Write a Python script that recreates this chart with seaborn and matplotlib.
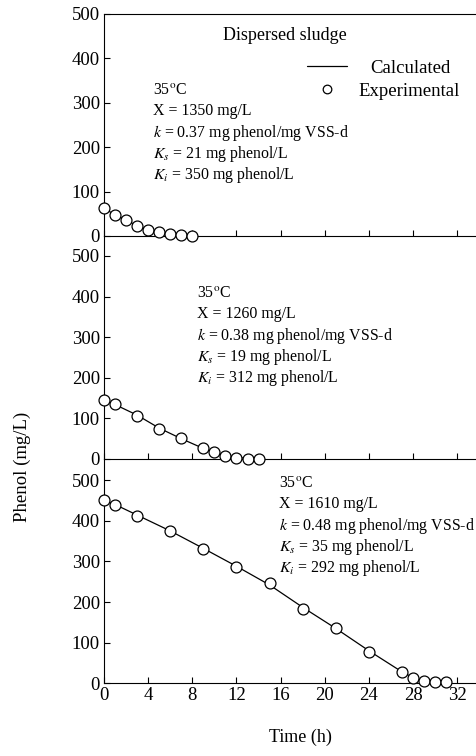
import numpy as np
import pandas as pd
import matplotlib
matplotlib.use("Agg")
import matplotlib.pyplot as plt
from matplotlib.lines import Line2D
import seaborn as sns

# Panel 1: 1350 mg/L
t1 = [0, 1, 2, 3, 4, 5, 6, 7, 8]
exp1 = [62, 48, 36, 23, 14, 8, 4, 2, 1]
calc_t1 = [0, 1, 2, 3, 4, 5, 6, 7, 8]
calc1 = [62, 48, 36, 23, 14, 8, 4, 2, 1]

# Panel 2: 1260 mg/L
t2 = [0, 1, 3, 5, 7, 9, 10, 11, 12, 13, 14]
exp2 = [145, 135, 107, 74, 52, 26, 18, 8, 3, 1, 0.5]
calc_t2 = [0, 1, 3, 5, 7, 9, 10, 11, 12, 13, 14]
calc2 = [145, 134, 108, 76, 50, 26, 17, 9, 4, 1.5, 0.5]

# Panel 3: 1610 mg/L
t3 = [0, 1, 3, 6, 9, 12, 15, 18, 21, 24, 27, 28, 29, 30, 31]
exp3 = [450, 439, 412, 376, 331, 286, 246, 182, 137, 78, 29, 14, 6, 4, 2]
calc_t3 = [0, 1, 3, 6, 9, 12, 15, 18, 21, 24, 27, 28, 29, 30, 31]
calc3 = [450, 440, 414, 375, 332, 288, 242, 187, 135, 80, 28, 14, 6, 3, 1]

notes = [
    ["35$^{\\rm o}$C", "X = 1350 mg/L", "$k$ = 0.37 mg phenol/mg VSS-d",
     "$K_s$ = 21 mg phenol/L", "$K_i$ = 350 mg phenol/L"],
    ["35$^{\\rm o}$C", "X = 1260 mg/L", "$k$ = 0.38 mg phenol/mg VSS-d",
     "$K_s$ = 19 mg phenol/L", "$K_i$ = 312 mg phenol/L"],
    ["35$^{\\rm o}$C", "X = 1610 mg/L", "$k$ = 0.48 mg phenol/mg VSS-d",
     "$K_s$ = 35 mg phenol/L", "$K_i$ = 292 mg phenol/L"],
]
yticks = [0, 100, 200, 300, 400, 500]
xticks = [0, 4, 8, 12, 16, 20, 24, 28, 32]

sns.set_theme(style="ticks")
plt.rcParams["font.family"] = ["Liberation Serif", "DejaVu Serif"]
plt.rcParams["mathtext.fontset"] = "stix"
plt.rcParams["font.size"] = 11
plt.rcParams["axes.linewidth"] = 0.8
plt.rcParams["text.color"] = "black"
plt.rcParams["axes.edgecolor"] = "black"

W, H = 476, 756
fig = plt.figure(figsize=(W / 100, H / 100), dpi=100)

def px(x, y):
    return x / W, 1 - y / H

# (top px, bottom px, ymax, text left px, text top px)
panels = [
    (14, 236, 500, 153, 90),
    (236, 459, 549, 197, 293),
    (459, 683.3, 552, 279, 483),
]
data = [(t1, exp1, calc_t1, calc1), (t2, exp2, calc_t2, calc2), (t3, exp3, calc_t3, calc3)]

left = 104 / W
xmax = 34
width = xmax * 11.04 / W
for i, ((top, bot, ymax, tx, ty), (t, e, ct, c)) in enumerate(zip(panels, data)):
    ax = fig.add_axes([left, 1 - bot / H, width, (bot - top) / H])
    calc_df = pd.DataFrame({"t": ct, "v": c})
    exp_df = pd.DataFrame({"t": t, "v": e})
    sns.lineplot(data=calc_df, x="t", y="v", color="black", lw=0.9, ax=ax)
    sns.scatterplot(data=exp_df, x="t", y="v", marker="o", s=62, facecolor="white",
                    edgecolor="black", linewidth=0.9, ax=ax, clip_on=False, zorder=5)
    ax.set_xlim(0, xmax)
    ax.set_ylim(0, ymax)
    ax.set_yticks(yticks)
    ax.set_xticks(xticks)
    ax.set_xlabel("")
    ax.set_ylabel("")
    ax.tick_params(direction="in", length=4.5, width=0.8, labelsize=13.5, pad=3, colors="black")
    ax.spines["right"].set_visible(False)
    if i > 0:
        ax.spines["top"].set_visible(False)
    if i < 2:
        ax.tick_params(axis="x", labelbottom=False)
    ax.patch.set_alpha(0)
    for j, line in enumerate(notes[i]):
        fx, fy = px(tx, ty + j * 21.3)
        fig.text(fx, fy, line, ha="left", va="center", fontsize=11.4)

fig.text(*px(285, 35), "Dispersed sludge", ha="center", va="center", fontsize=13)

# legend: two rows, labels roughly centred on each other
calc_handle = Line2D([], [], color="black", lw=0.9)
exp_handle = Line2D([], [], color="black", marker="o", markerfacecolor="white",
                    markersize=6.2, lw=0, markeredgewidth=0.9)
fig.legend([calc_handle], ["Calculated"], loc="center left",
           bbox_to_anchor=px(307, 68), frameon=False, borderpad=0, borderaxespad=0,
           handlelength=2.13, handletextpad=1.23, fontsize=13.5)
fig.legend([exp_handle], ["Experimental"], loc="center left",
           bbox_to_anchor=px(307, 91), frameon=False, borderpad=0, borderaxespad=0,
           handlelength=2.13, handletextpad=0.64, fontsize=13.5)

fig.text(*px(22, 467), "Phenol (mg/L)", rotation=90, ha="center", va="center", fontsize=13.5)
fig.text(*px(300, 737), "Time (h)", ha="center", va="center", fontsize=13)

fig.savefig("out.png", dpi=100)
